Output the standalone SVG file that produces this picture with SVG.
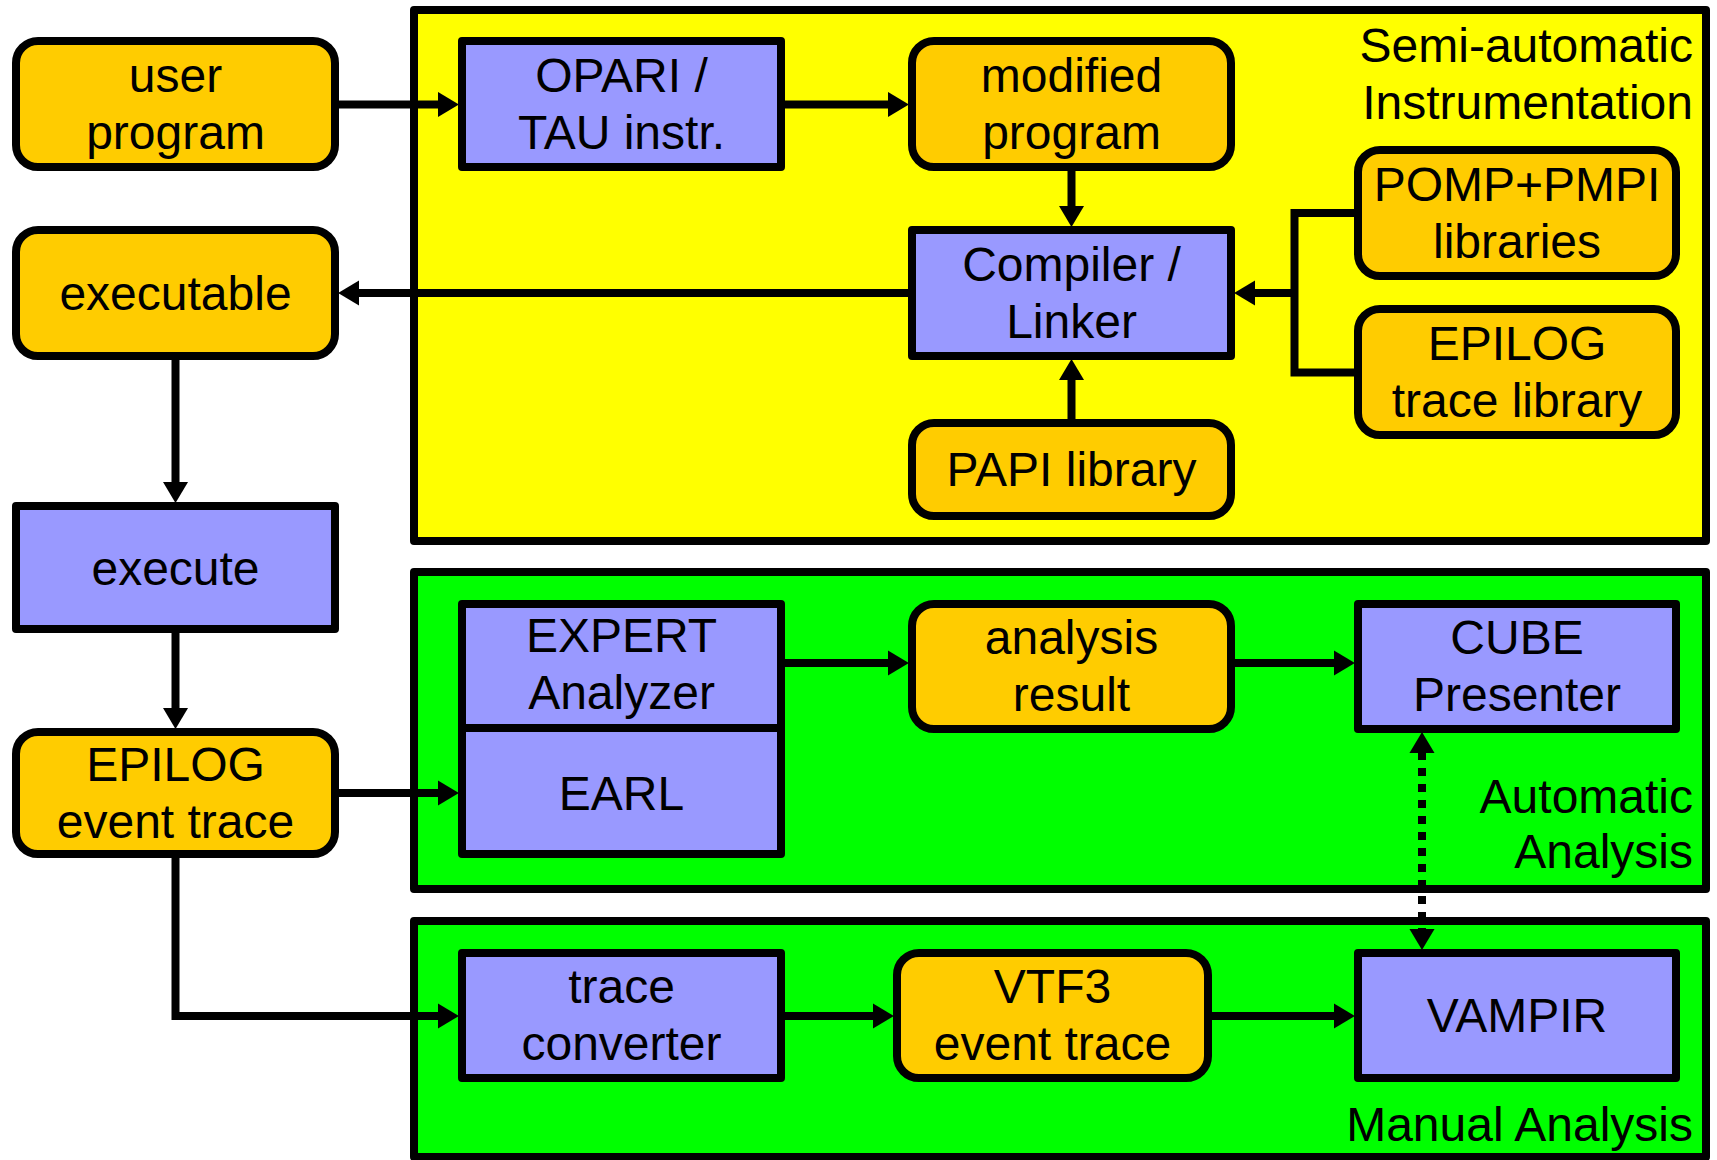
<svg xmlns="http://www.w3.org/2000/svg" width="1717" height="1160" viewBox="0 0 1717 1160">
<style>
.panel{stroke:#000;stroke-width:8;stroke-linejoin:round}
.yel{fill:#FFFF00}
.grn{fill:#00FF00}
.data{fill:#FFCC00;stroke:#000;stroke-width:8}
.tool{fill:#9999FF;stroke:#000;stroke-width:8;stroke-linejoin:round}
text{font-family:"Liberation Sans",Arial,sans-serif;font-size:48px;fill:#000}
.c{text-anchor:middle}
.r{text-anchor:end}
.ln{fill:none;stroke:#000;stroke-width:8}
.arr{marker-end:url(#ah)}
.dot{stroke-dasharray:8 8}
</style>
<defs>
<marker id="ah" markerUnits="userSpaceOnUse" markerWidth="22" markerHeight="26" refX="1" refY="12" orient="auto-start-reverse" viewBox="0 0 21 24">
<path d="M0,0 L20,12 L0,24 Z" fill="#000"/>
</marker>
</defs>
<rect width="1717" height="1160" fill="#fff"/>
<g id="panels">
<g id="panel-instr"><rect class="panel yel" x="414" y="10" width="1292" height="531"/>
<text class="r" x="1693" y="62">Semi-automatic</text><text class="r" x="1693" y="119">Instrumentation</text></g>
<g id="panel-auto"><rect class="panel grn" x="414" y="572" width="1292" height="317"/>
<text class="r" x="1693" y="813">Automatic</text><text class="r" x="1693" y="868">Analysis</text></g>
<g id="panel-manual"><rect class="panel grn" x="414" y="921" width="1292" height="236"/>
<text class="r" x="1693" y="1141">Manual Analysis</text></g>
</g>
<g id="connectors">
<line class="ln arr" x1="339" y1="104.5" x2="439" y2="104.5"/>
<line class="ln arr" x1="785" y1="104.5" x2="889" y2="104.5"/>
<line class="ln arr" x1="1071.5" y1="171" x2="1071.5" y2="207"/>
<line class="ln arr" x1="908" y1="293" x2="358" y2="293"/>
<path class="ln" d="M1354,213 H1294.5 V372.5 H1354"/>
<line class="ln arr" x1="1294.5" y1="293" x2="1254" y2="293"/>
<line class="ln arr" x1="1071.5" y1="419" x2="1071.5" y2="379"/>
<line class="ln arr" x1="175.5" y1="360" x2="175.5" y2="483"/>
<line class="ln arr" x1="175.5" y1="633" x2="175.5" y2="709"/>
<line class="ln arr" x1="339" y1="793" x2="439" y2="793"/>
<path class="ln arr" d="M175.5,858 V1016 H439"/>
<line class="ln arr" x1="785" y1="663" x2="889" y2="663"/>
<line class="ln arr" x1="1235" y1="663" x2="1335" y2="663"/>
<line class="ln dot" x1="1422" y1="752" x2="1422" y2="930" marker-start="url(#ah)" marker-end="url(#ah)"/>
<line class="ln arr" x1="785" y1="1016" x2="874" y2="1016"/>
<line class="ln arr" x1="1212" y1="1016" x2="1335" y2="1016"/>
</g>
<g id="user-program"><rect class="data" x="16" y="41" width="319" height="126" rx="22"/>
<text class="c" x="175.5" y="92">user</text><text class="c" x="175.5" y="149">program</text></g>
<g id="executable"><rect class="data" x="16" y="230" width="319" height="126" rx="22"/>
<text class="c" x="175.5" y="310">executable</text></g>
<g id="execute"><rect class="tool" x="16" y="506" width="319" height="123"/>
<text class="c" x="175.5" y="585">execute</text></g>
<g id="epilog-event-trace"><rect class="data" x="16" y="732" width="319" height="122" rx="22"/>
<text class="c" x="175.5" y="781">EPILOG</text><text class="c" x="175.5" y="838">event trace</text></g>
<g id="opari"><rect class="tool" x="462" y="41" width="319" height="126"/>
<text class="c" x="621.5" y="92">OPARI /</text><text class="c" x="621.5" y="149">TAU instr.</text></g>
<g id="modified-program"><rect class="data" x="912" y="41" width="319" height="126" rx="22"/>
<text class="c" x="1071.5" y="92">modified</text><text class="c" x="1071.5" y="149">program</text></g>
<g id="compiler"><rect class="tool" x="912" y="230" width="319" height="126"/>
<text class="c" x="1071.5" y="281">Compiler /</text><text class="c" x="1071.5" y="338">Linker</text></g>
<g id="papi"><rect class="data" x="912" y="423" width="319" height="93" rx="22"/>
<text class="c" x="1071.5" y="486">PAPI library</text></g>
<g id="pomp"><rect class="data" x="1358" y="150" width="318" height="126" rx="22"/>
<text class="c" x="1517" y="201">POMP+PMPI</text><text class="c" x="1517" y="258">libraries</text></g>
<g id="epilog-trace-library"><rect class="data" x="1358" y="309" width="318" height="126" rx="22"/>
<text class="c" x="1517" y="360">EPILOG</text><text class="c" x="1517" y="417">trace library</text></g>
<g id="expert-earl"><rect class="tool" x="462" y="604" width="319" height="250"/>
<line x1="462" y1="728" x2="781" y2="728" stroke="#000" stroke-width="8"/>
<text class="c" x="621.5" y="652">EXPERT</text><text class="c" x="621.5" y="709">Analyzer</text>
<text class="c" x="621.5" y="810">EARL</text></g>
<g id="analysis-result"><rect class="data" x="912" y="604" width="319" height="125" rx="22"/>
<text class="c" x="1071.5" y="654">analysis</text><text class="c" x="1071.5" y="711">result</text></g>
<g id="cube"><rect class="tool" x="1358" y="604" width="318" height="125"/>
<text class="c" x="1517" y="654">CUBE</text><text class="c" x="1517" y="711">Presenter</text></g>
<g id="trace-converter"><rect class="tool" x="462" y="953" width="319" height="125"/>
<text class="c" x="621.5" y="1003">trace</text><text class="c" x="621.5" y="1060">converter</text></g>
<g id="vtf3"><rect class="data" x="897" y="953" width="311" height="125" rx="22"/>
<text class="c" x="1052.5" y="1003">VTF3</text><text class="c" x="1052.5" y="1060">event trace</text></g>
<g id="vampir"><rect class="tool" x="1358" y="953" width="318" height="125"/>
<text class="c" x="1517" y="1032">VAMPIR</text></g>
</svg>
